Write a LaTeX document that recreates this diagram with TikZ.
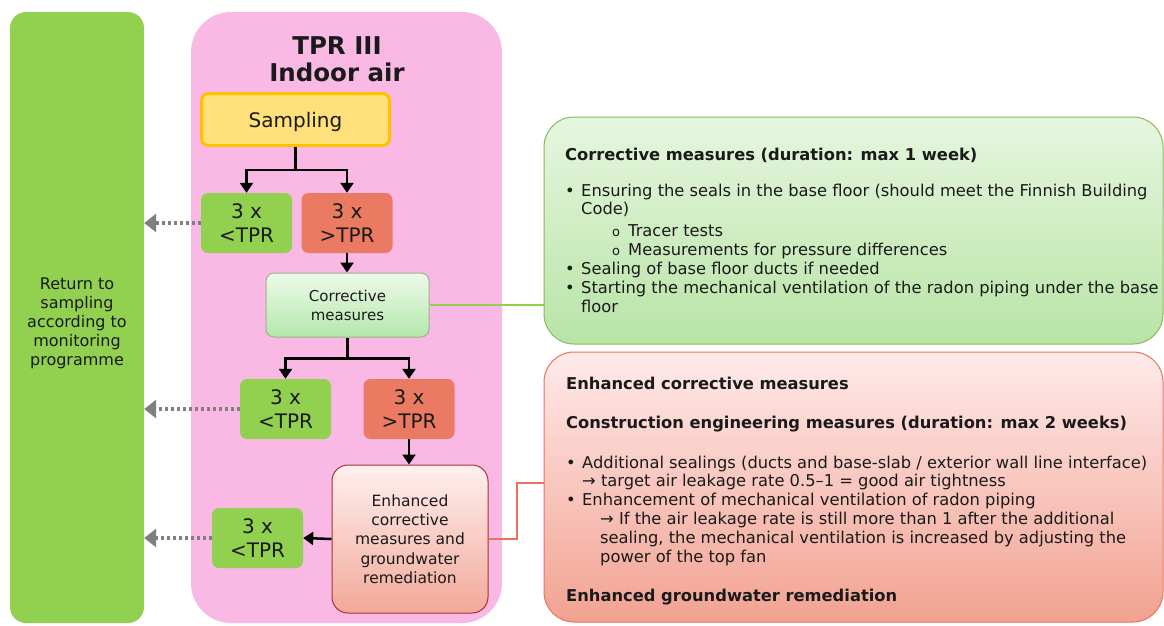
\documentclass[tikz,border=0pt]{standalone}
\usepackage{fontspec}
\setmainfont{DejaVu Sans}
\newfontfamily\tah{DejaVu Sans}
\usetikzlibrary{arrows.meta,calc}
\definecolor{cgreen}{HTML}{92D050}
\definecolor{cpink}{HTML}{FAB9E4}
\definecolor{cyellow}{HTML}{FFE07A}
\definecolor{corange}{HTML}{FFC000}
\definecolor{csalmon}{HTML}{EB7A62}
\definecolor{cgray}{HTML}{7F7F7F}
\definecolor{ctext}{HTML}{1A1A1A}
\definecolor{cred}{HTML}{E8735F}
\definecolor{lgtop}{HTML}{EEF9EA}
\definecolor{lgbot}{HTML}{B3E8AC}
\definecolor{gbtop}{HTML}{E6F6DF}
\definecolor{gbbot}{HTML}{B8E4A6}
\tikzset{
  base/.style={inner sep=0pt, align=center, text=ctext},
  tg/.style={base, fill=cgreen, rounded corners=7pt, minimum width=91pt, minimum height=60pt, font=\fontsize{20}{24}\selectfont},
  tr/.style={tg, fill=csalmon},
  arr/.style={line width=2.5pt, -{Triangle[width=13pt,length=10pt]}},
  plain/.style={line width=2.5pt},
  dotarr/.style={draw=cgray, line width=4pt, dash pattern=on 3pt off 3pt, -{Triangle[width=18pt,length=12pt]}},
  rtext/.style={inner sep=0pt, align=left, text=ctext, anchor=north west, font=\tah\fontsize{16.3}{19}\selectfont},
}
\newcommand{\bul}{\makebox[16pt][l]{•}}
\newcommand{\sbul}{\hspace{47pt}\makebox[16pt][l]{\fontsize{13}{13}\selectfont o}}
\begin{document}
\begin{tikzpicture}[x=1pt,y=-1pt]
\useasboundingbox (0,0) rectangle (1164,625);
\fill[white] (0,0) rectangle (1164,625);
% big panels
\node[fill=cgreen, rounded corners=16pt, minimum width=134pt, minimum height=611pt, inner sep=0pt] (leftbox) at (77,317.5) {};
\node[base, font=\fontsize{16}{19}\selectfont] (lefttext) at (77,323) {Return to\\sampling\\according to\\monitoring\\programme};
\node[fill=cpink, rounded corners=40pt, minimum width=311pt, minimum height=611pt, inner sep=0pt] (pink) at (346.5,317.5) {};
\node[base, font=\bfseries\fontsize{24.5}{27}\selectfont] (title) at (337,59) {TPR III\\Indoor air};
% flow boxes
\node[base, fill=cyellow, draw=corange, line width=3pt, rounded corners=7pt, minimum width=188pt, minimum height=52pt, text depth=0pt, font=\fontsize{20}{22}\selectfont] (samp) at (295.5,119.5) {Sampling};
\node[tg] (lt1) at (246.5,223) {3 x\\<TPR};
\node[tr] (gt1) at (347,223) {3 x\\>TPR};
\node[base, top color=lgtop, bottom color=lgbot, draw=cgreen!40!gray!80, line width=1pt, rounded corners=8pt, minimum width=163pt, minimum height=64pt, font=\fontsize{15}{19}\selectfont] (corr) at (347.5,305) {Corrective\\measures};
\node[tg] (lt2) at (285.5,409) {3 x\\<TPR};
\node[tr] (gt2) at (409,409) {3 x\\>TPR};
\node[base, top color=red!6!white, bottom color=csalmon!65!white, draw=red!55!black!80, line width=1pt, rounded corners=16pt, minimum width=156pt, minimum height=148pt, font=\fontsize{15.5}{19.3}\selectfont] (enh) at (410,539) {Enhanced\\corrective\\measures and\\groundwater\\remediation};
\node[tg] (lt3) at (257.5,538) {3 x\\<TPR};
% right panels
\node[top color=gbtop, bottom color=gbbot, draw=cgreen!70!gray, line width=1pt, rounded corners=30pt, minimum width=619pt, minimum height=227pt, inner sep=0pt] (gbox) at (853.5,230.5) {};
\node[top color=red!8!white, bottom color=csalmon!70!white, draw=cred, line width=1pt, rounded corners=30pt, minimum width=619pt, minimum height=270pt, inner sep=0pt] (rbox) at (853.5,487) {};
\node[rtext] (gtext) at (565,148) {\textbf{Corrective measures (duration: max 1 week)}\\[17pt]
\bul Ensuring the seals in the base floor (should meet the Finnish Building\\[-1pt]
\hspace{16pt}Code)\\[3pt]
\sbul Tracer tests\\
\sbul Measurements for pressure differences\\
\bul Sealing of base floor ducts if needed\\
\bul Starting the mechanical ventilation of the radon piping under the base\\
\hspace{16pt}floor};
\node[rtext] (rtxt) at (566,377) {\textbf{Enhanced corrective measures}\\[20pt]
\textbf{Construction engineering measures (duration: max 2 weeks)}\\[21pt]
\bul Additional sealings (ducts and base-slab / exterior wall line interface)\\[-1pt]
\hspace{16pt}→ target air leakage rate 0.5–1 = good air tightness\\
\bul Enhancement of mechanical ventilation of radon piping\\
\hspace{34pt}→ If the air leakage rate is still more than 1 after the additional\\
\hspace{34pt}sealing, the mechanical ventilation is increased by adjusting the\\
\hspace{34pt}power of the top fan\\[20pt]
\textbf{Enhanced groundwater remediation}};
% connectors
\coordinate (j1) at ([yshift=-23pt]samp.south);
\draw[plain] (samp.south) -- (j1);
\draw[arr] (j1) -| (lt1.north);
\draw[arr] (j1) -| (gt1.north);
\draw[arr] (gt1.south) -- (gt1.south |- corr.north);
\coordinate (j2) at ([yshift=-21pt]corr.south);
\draw[plain] (corr.south) -- (j2);
\draw[arr] (j2) -| (lt2.north);
\draw[arr] (j2) -| (gt2.north);
\draw[arr] (gt2.south) -- (enh.north -| gt2.south);
\draw[arr] (enh.west) -- (lt3.east);
\draw[dotarr] (lt1.west) -- (lt1.west -| leftbox.east);
\draw[dotarr] (lt2.west) -- (lt2.west -| leftbox.east);
\draw[dotarr] (lt3.west) -- (lt3.west -| leftbox.east);
\draw[cgreen, line width=2pt] (corr.east) -- (corr.east -| gbox.west);
\coordinate (rj) at (517,483);
\draw[cred, line width=2pt] (enh.east) -| (rj) -- (rj -| rbox.west);
\end{tikzpicture}
\end{document}
